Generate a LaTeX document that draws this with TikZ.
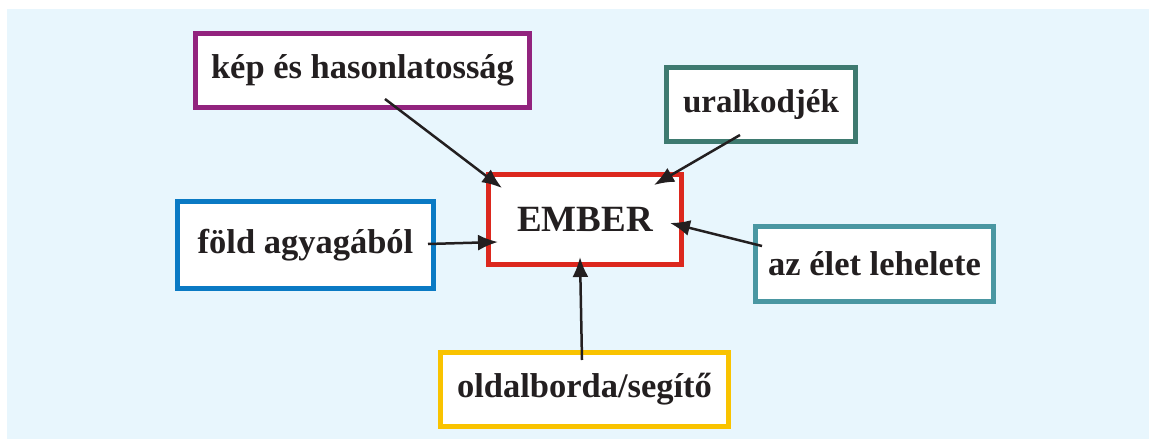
\documentclass[tikz,border=0pt]{standalone}
\usepackage{fontspec}
\setmainfont{Liberation Serif}
\usetikzlibrary{arrows.meta}
\definecolor{bgblue}{RGB}{232,246,253}
\definecolor{cpurple}{RGB}{146,35,126}
\definecolor{cdteal}{RGB}{62,122,112}
\definecolor{cred}{RGB}{220,40,30}
\definecolor{cblue}{RGB}{10,122,196}
\definecolor{clteal}{RGB}{74,151,162}
\definecolor{cyellow}{RGB}{249,195,0}
\definecolor{ink}{RGB}{35,31,32}
\tikzset{
  box/.style={draw, line width=5pt, fill=white, inner sep=0pt, text=ink,
    font=\fontsize{34.5}{40}\selectfont\bfseries},
  arr/.style={draw=ink, line width=2.5pt, -{Latex[length=20pt,width=16pt]}},
}
\begin{document}
\begin{tikzpicture}[x=1pt,y=-1pt]
\useasboundingbox (0,0) rectangle (1149,439);
\fill[bgblue] (7,9) rectangle (1149,439);
\node[box, draw=cpurple, minimum width=334pt, minimum height=74pt] (kep) at (362.5,70.5) {kép és hasonlatosság};
\node[box, draw=cdteal, minimum width=189pt, minimum height=74pt, font=\fontsize{33}{40}\selectfont\bfseries] (ural) at (761,104.5) {uralkodjék};
\node[box, draw=cred, minimum width=193pt, minimum height=90pt, font=\fontsize{37}{42}\selectfont\bfseries] (ember) at (585,219.5) {EMBER};
\node[box, draw=cblue, minimum width=256pt, minimum height=87pt] (fold) at (305.5,245) {föld agyagából};
\node[box, draw=clteal, minimum width=238pt, minimum height=75pt] (elet) at (874.5,264) {az élet lehelete};
\node[box, draw=cyellow, minimum width=288pt, minimum height=74pt] (old) at (584.5,389.5) {oldalborda/segítő};
\draw[arr] ([shift={(22.5,28.5)}]kep.center) -- ([shift={(-83,-31.5)}]ember.center);
\draw[arr] ([shift={(-21,30.5)}]ural.center) -- ([shift={(69,-34.5)}]ember.center);
\draw[arr] ([shift={(122.5,-1)}]fold.center) -- ([shift={(-87,22.5)}]ember.center);
\draw[arr] ([shift={(-112.5,-18)}]elet.center) -- ([shift={(85,3.5)}]ember.center);
\draw[arr] ([shift={(-2.5,-29.5)}]old.center) -- ([shift={(-5,37.5)}]ember.center);
\end{tikzpicture}
\end{document}
